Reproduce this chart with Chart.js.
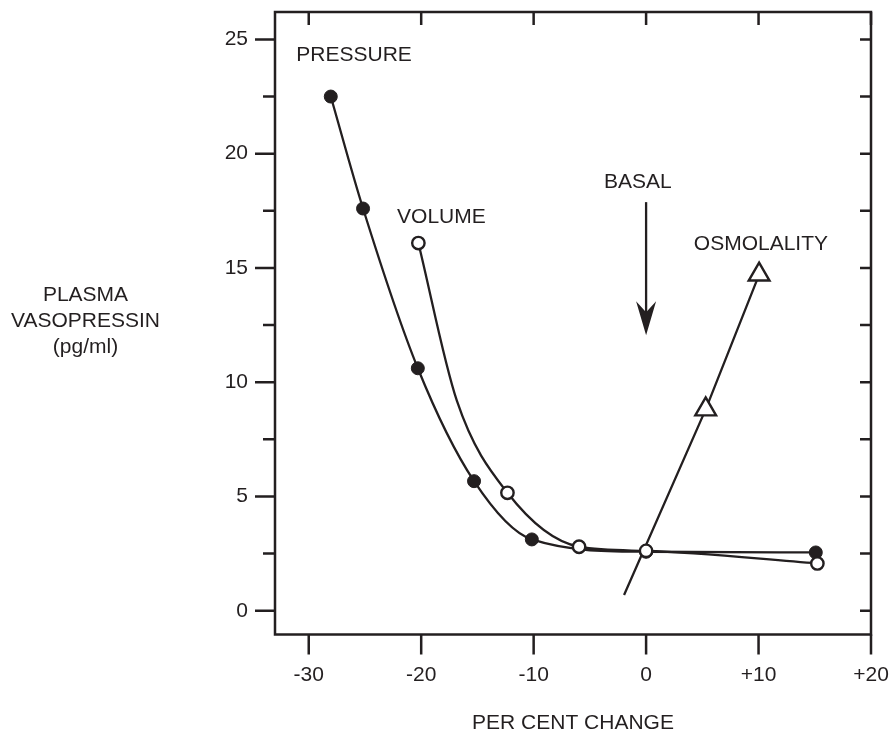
<!DOCTYPE html>
<html><head><meta charset="utf-8">
<script src="https://cdn.jsdelivr.net/npm/chart.js@4.4.1/dist/chart.umd.min.js"></script>
<style>html,body{margin:0;padding:0;background:#fff}#wrap{width:890px;height:733px}</style>
</head><body><div id="wrap"><canvas id="c" width="890" height="733"></canvas></div>
<script>
// ---- data ----
const pressureX = [-28.04, -25.17, -20.30, -15.30, -10.16, 0, 15.09];
const pressureY = [22.50, 17.60, 10.61, 5.67, 3.12, 2.58, 2.55];
const volumeX = [-20.25, -16.83, -12.33, -5.96, 0, 15.23];
const volumeY = [16.09, 9.19, 5.16, 2.80, 2.62, 2.07];
const volumeMarked = [true, false, true, true, true, true];
// osmolality: line start (unmarked) and two triangles
const osmolalityX = [-1.96, 5.30, 10.05];
const osmolalityY = [0.69, 8.81, 14.71];
const osmolalityMarked = [false, true, true];
const xTickValues = [-30, -20, -10, 0, 10, 20];
const xTickLabels = ['-30', '-20', '-10', '0', '+10', '+20'];
const yTickValues = [0, 5, 10, 15, 20, 25];
const yTickLabels = ['0', '5', '10', '15', '20', '25'];
const yMinorTicks = [2.5, 7.5, 12.5, 17.5, 22.5];
const rightTicks = [0, 2.5, 5, 7.5, 10, 12.5, 15, 17.5, 20, 22.5, 25];
const basalX = 0;
const basalArrowFrom = 17.88;
const basalArrowTo = 12.06;

const INK = '#231f20';
const FONT = '"Liberation Sans", Arial, Helvetica, sans-serif';

const labels = [
  {text: 'PRESSURE', x: -25.97, y: 24.29},
  {text: 'VOLUME', x: -18.2, y: 17.24},
  {text: 'BASAL', x: -0.74, y: 18.74},
  {text: 'OSMOLALITY', x: 10.21, y: 16.06}
];

const pts = (xs, ys) => xs.map((x, i) => ({x: x, y: ys[i]}));

const framePlugin = {
  id: 'frame',
  beforeDatasetsDraw(chart) {
    const {ctx, chartArea: a, scales: {x, y}} = chart;
    ctx.save();
    ctx.strokeStyle = INK;
    ctx.lineWidth = 2.5;
    ctx.strokeRect(a.left, a.top, a.right - a.left, a.bottom - a.top);
    ctx.beginPath();
    yTickValues.forEach(v => { const p = y.getPixelForValue(v); ctx.moveTo(a.left - 20, p); ctx.lineTo(a.left, p); });
    yMinorTicks.forEach(v => { const p = y.getPixelForValue(v); ctx.moveTo(a.left - 12, p); ctx.lineTo(a.left, p); });
    rightTicks.forEach(v => { const p = y.getPixelForValue(v); ctx.moveTo(a.right - 11, p); ctx.lineTo(a.right, p); });
    xTickValues.forEach(v => { const p = x.getPixelForValue(v); ctx.moveTo(p, a.bottom); ctx.lineTo(p, a.bottom + 20); });
    xTickValues.forEach(v => { const p = x.getPixelForValue(v); ctx.moveTo(p, a.top); ctx.lineTo(p, a.top + 13); });
    ctx.stroke();
    ctx.restore();
  },
  afterDraw(chart) {
    const {ctx, scales: {x, y}} = chart;
    ctx.save();
    ctx.fillStyle = INK;
    ctx.font = '21px ' + FONT;
    ctx.textAlign = 'center';
    ctx.textBaseline = 'middle';
    labels.forEach(l => ctx.fillText(l.text, x.getPixelForValue(l.x), y.getPixelForValue(l.y)));
    // axis titles
    ctx.fillText('PLASMA', 85.5, 295);
    ctx.fillText('VASOPRESSIN', 85.5, 321.5);
    ctx.fillText('(pg/ml)', 85.5, 347);
    ctx.fillText('PER CENT CHANGE', (chart.chartArea.left + chart.chartArea.right) / 2, 723.5);
    // basal arrow
    const ax = x.getPixelForValue(basalX);
    const y0 = y.getPixelForValue(basalArrowFrom);
    const y1 = y.getPixelForValue(basalArrowTo);
    ctx.strokeStyle = INK;
    ctx.lineWidth = 2.3;
    ctx.beginPath();
    ctx.moveTo(ax, y0);
    ctx.lineTo(ax, y1 - 20);
    ctx.stroke();
    ctx.beginPath();
    ctx.moveTo(ax, y1);
    ctx.lineTo(ax - 10, y1 - 34);
    ctx.lineTo(ax, y1 - 23);
    ctx.lineTo(ax + 10, y1 - 34);
    ctx.closePath();
    ctx.fill();
    ctx.restore();
  }
};

new Chart(document.getElementById('c'), {
  type: 'line',
  data: {
    datasets: [
      {
        label: 'VOLUME', data: pts(volumeX, volumeY), order: 0,
        borderColor: INK, borderWidth: 2.3, cubicInterpolationMode: 'monotone',
        pointRadius: volumeMarked.map(m => m ? 6.2 : 0), pointBorderWidth: 2.4,
        pointBackgroundColor: '#fff', pointBorderColor: INK
      },
      {
        label: 'PRESSURE', data: pts(pressureX, pressureY), order: 1,
        borderColor: INK, borderWidth: 2.3, cubicInterpolationMode: 'monotone',
        pointRadius: 6.5, pointBorderWidth: 1, pointBackgroundColor: INK, pointBorderColor: INK
      },
      {
        label: 'OSMOLALITY', data: pts(osmolalityX, osmolalityY), order: 2,
        borderColor: INK, borderWidth: 2.3, tension: 0,
        pointStyle: 'triangle', pointRadius: osmolalityMarked.map(m => m ? 12 : 0), pointBorderWidth: 2.4,
        pointBackgroundColor: '#fff', pointBorderColor: INK
      }
    ]
  },
  options: {
    responsive: false,
    devicePixelRatio: 1,
    animation: false,
    layout: {autoPadding: false, padding: {top: 12, right: 19, bottom: 0, left: 0}},
    plugins: {legend: {display: false}, tooltip: {enabled: false}},
    scales: {
      x: {
        type: 'linear', position: 'bottom', min: -33, max: 20,
        afterBuildTicks: s => { s.ticks = xTickValues.map(v => ({value: v})); },
        afterFit: s => { s.height = 98.5; s.paddingLeft = 0; s.paddingRight = 0; },
        ticks: {
          callback: (v, i) => xTickLabels[i], autoSkip: false, maxRotation: 0,
          color: INK, font: {size: 21, family: FONT}, padding: 7
        },
        grid: {display: false, drawTicks: true, tickLength: 21},
        border: {display: false}
      },
      y: {
        type: 'linear', position: 'left', min: -1.04, max: 26.2,
        afterBuildTicks: s => { s.ticks = yTickValues.map(v => ({value: v})); },
        afterFit: s => { s.width = 275; s.paddingTop = 0; s.paddingBottom = 0; },
        ticks: {
          callback: (v, i) => yTickLabels[i], autoSkip: false,
          color: INK, font: {size: 21, family: FONT}, padding: 7
        },
        grid: {display: false, drawTicks: true, tickLength: 20},
        border: {display: false}
      }
    }
  },
  plugins: [framePlugin]
});
</script>
</body></html>
